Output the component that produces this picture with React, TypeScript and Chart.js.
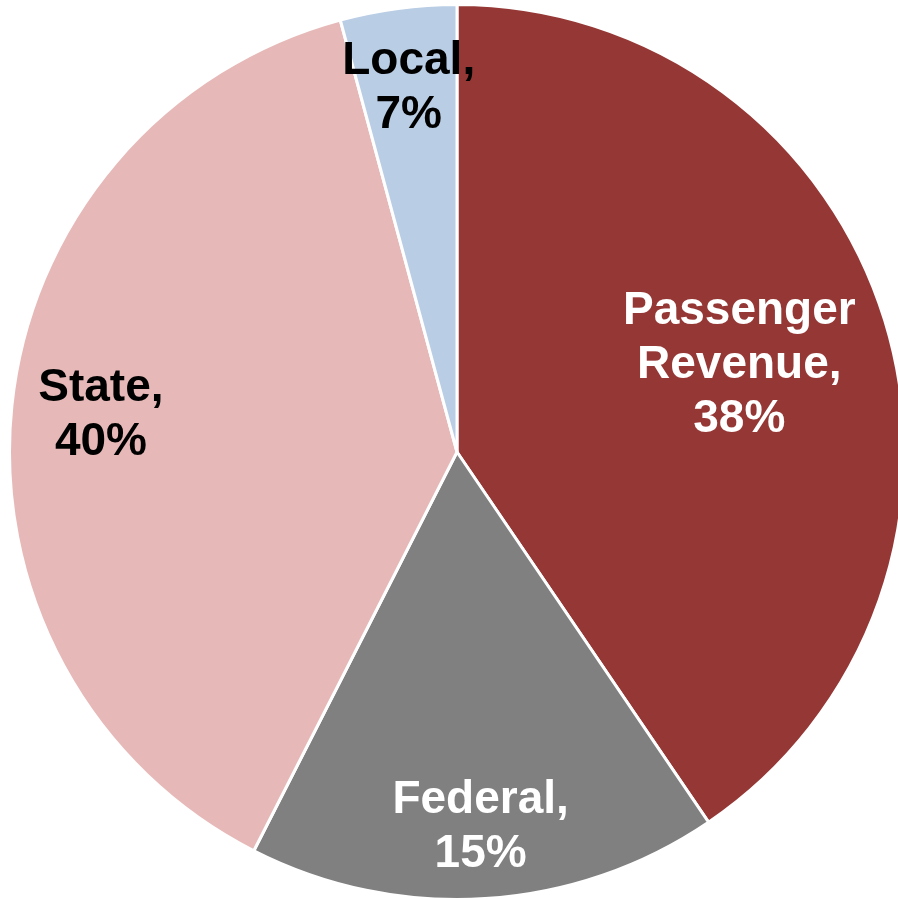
import React, { useEffect, useRef } from "react";
import { Chart, registerables } from "chart.js";

Chart.register(...registerables);

const categories = ["Passenger Revenue", "Federal", "State", "Local"];
const sliceValues = [40.5, 17.0, 38.3, 4.2];
const labelLines = [
  ["Passenger", "Revenue,", "38%"],
  ["Federal,", "15%"],
  ["State,", "40%"],
  ["Local,", "7%"],
];
const sliceColors = ["#953735", "#808080", "#E6B9B8", "#B9CDE5"];
const labelColors = ["#FFFFFF", "#FFFFFF", "#000000", "#000000"];
const labelRadialFractions = [0.66, 0.84, 0.8, 0.82];

const sliceLabelPlugin = {
  id: "sliceLabels",
  afterDatasetsDraw(chart: any) {
    const meta = chart.getDatasetMeta(0);
    const ctx = chart.ctx;
    ctx.save();
    ctx.font = "bold 46px 'Liberation Sans', Arial, sans-serif";
    ctx.textAlign = "center";
    ctx.textBaseline = "middle";
    const lineH = 54;
    meta.data.forEach((arc: any, i: number) => {
      const p = arc.getProps(["x", "y", "startAngle", "endAngle", "outerRadius"], true);
      const mid = (p.startAngle + p.endAngle) / 2;
      const r = p.outerRadius * labelRadialFractions[i];
      const cx = p.x + Math.cos(mid) * r;
      const cy = p.y + Math.sin(mid) * r;
      const lines = labelLines[i];
      ctx.fillStyle = labelColors[i];
      const y0 = cy - ((lines.length - 1) * lineH) / 2;
      lines.forEach((t, j) => ctx.fillText(t, cx, y0 + j * lineH));
    });
    ctx.restore();
  },
};

export default function App() {
  const ref = useRef<HTMLCanvasElement | null>(null);
  useEffect(() => {
    if (!ref.current) return;
    const chart = new Chart(ref.current, {
      type: "pie",
      data: {
        labels: categories,
        datasets: [
          {
            data: sliceValues,
            backgroundColor: sliceColors,
            borderColor: "#FFFFFF",
            borderWidth: 3,
          },
        ],
      },
      options: {
        responsive: false,
        animation: false,
        layout: { padding: 0 },
        plugins: {
          legend: { display: false },
          tooltip: { enabled: false },
        },
      },
      plugins: [sliceLabelPlugin],
    });
    return () => chart.destroy();
  }, []);
  return (
    <div
      style={{
        position: "fixed",
        left: 0,
        top: 0,
        width: 898,
        height: 899,
        overflow: "hidden",
        background: "#FFFFFF",
      }}
    >
      <div style={{ position: "absolute", left: 8, top: 3, width: 898, height: 898 }}>
        <canvas ref={ref} width={898} height={898} style={{ display: "block" }} />
      </div>
    </div>
  );
}
